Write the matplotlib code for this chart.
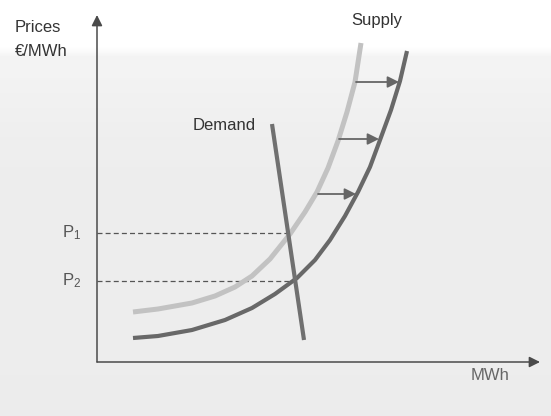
import numpy as np
import matplotlib.pyplot as plt

plt.rcParams['font.family'] = ['Liberation Sans', 'DejaVu Sans']
plt.rcParams['mathtext.fontset'] = 'custom'
plt.rcParams['mathtext.rm'] = 'Liberation Sans'
plt.rcParams['mathtext.it'] = 'Liberation Sans'

# supply curve before (light) and after (dark) the shift: quantity, price
supply_old_q = [36, 61, 95, 118, 138, 155, 173, 193, 208, 220, 231, 241, 250, 258, 264]
supply_old_p = [50, 53, 59, 66, 75, 86, 103, 128, 150, 170, 194, 221, 250, 280, 319]
supply_new_q = [36, 61, 95, 128, 155, 178, 200, 218, 233, 248, 261, 273, 283, 294, 303, 310]
supply_new_p = [24, 26, 32, 42, 54, 68, 84, 102, 122, 146, 170, 195, 222, 252, 281, 311]

# demand line
demand_q = [175, 207]
demand_p = [238, 22]

# equilibrium prices and quantities
price_labels = ["P$_1$", "P$_2$"]
eq_price = [129, 81]
eq_qty = [191, 198]

# shift arrows: price level, from old supply to new supply
shift_p = [280, 223, 168]
shift_from = [258, 241, 220]
shift_to = [303, 283, 260]

fig = plt.figure(figsize=(5.51, 4.16), dpi=100)
ax = fig.add_axes([0, 0, 1, 1])
ax.set_xlim(-97, 454)
ax.set_ylim(-54, 362)
ax.axis("off")

# scanned-page background: white on top, light grey below
rows = np.arange(416)
shade = np.interp(rows, [0, 46, 56, 150, 416], [1.0, 1.0, 0.955, 0.93, 0.925])
ax.imshow(shade[:, None], cmap="gray", vmin=0, vmax=1, aspect="auto",
          extent=[0, 1, 0, 1], transform=ax.transAxes, zorder=0)

# axes with arrow heads
ax.annotate("", xy=(0, 347), xytext=(0, 0),
            arrowprops=dict(arrowstyle="-|>", color="#4a4a4a", lw=1.1,
                            mutation_scale=16, shrinkA=0, shrinkB=0))
ax.annotate("", xy=(443, 0), xytext=(0, 0),
            arrowprops=dict(arrowstyle="-|>", color="#4a4a4a", lw=1.1,
                            mutation_scale=16, shrinkA=0, shrinkB=0))

# dashed price levels
for p, q, lab in zip(eq_price, eq_qty, price_labels):
    ax.plot([0, q], [p, p], color="#555555", lw=0.9, ls=(0, (4, 2.5)), zorder=2)
    ax.text(-16, p, lab, ha="right", va="center", fontsize=12, color="#555555")

ax.plot(supply_old_q, supply_old_p, color="#c2c2c2", lw=3.6,
        solid_capstyle="butt", solid_joinstyle="round", zorder=3)
ax.plot(supply_new_q, supply_new_p, color="#686868", lw=3.0,
        solid_capstyle="butt", solid_joinstyle="round", zorder=3)
ax.plot(demand_q, demand_p, color="#707070", lw=3.0,
        solid_capstyle="butt", zorder=4)

for p, q0, q1 in zip(shift_p, shift_from, shift_to):
    ax.annotate("", xy=(q1 - 1, p), xytext=(q0 + 1, p),
                arrowprops=dict(arrowstyle="-|>", color="#666666", lw=1.3,
                                mutation_scale=17, shrinkA=0, shrinkB=0),
                zorder=5)

ax.text(-82, 335, "Prices", ha="left", va="center", fontsize=12, color="#333333")
ax.text(-82, 311, "€/MWh", ha="left", va="center", fontsize=12, color="#333333")
ax.text(280, 342, "Supply", ha="center", va="center", fontsize=12, color="#333333")
ax.text(96, 236, "Demand", ha="left", va="center", fontsize=12, color="#333333")
ax.text(393, -14, "MWh", ha="center", va="center", fontsize=12, color="#666666")

fig.savefig("out.png", dpi=100)
